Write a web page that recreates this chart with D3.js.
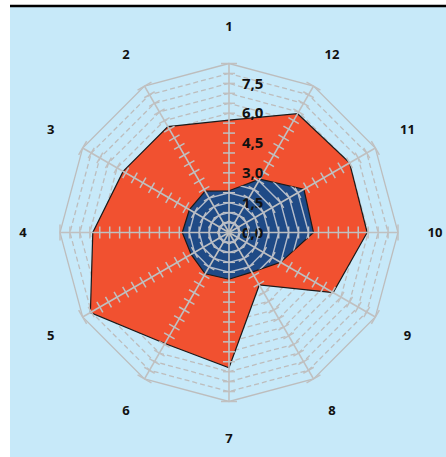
<!DOCTYPE html>
<html>
<head>
<meta charset="utf-8">
<script src="https://cdn.jsdelivr.net/npm/d3@7"></script>
<style>
  html, body { margin: 0; padding: 0; background: #ffffff; }
  svg { display: block; }
</style>
</head>
<body>
<svg id="chart" width="446" height="457"></svg>
<script>
// Spokes, counter-clockwise from the top
const categories = ["1", "2", "3", "4", "5", "6", "7", "8", "9", "10", "11", "12"];
// Outer (red) series, one value per spoke
const seriesOuter = [5.65, 6.15, 6.15, 6.85, 8.05, 6.45, 6.8, 3.05, 6.05, 6.95, 7.0, 6.9];
// Inner (blue) series
const seriesInner = [2.1, 2.4, 2.3, 2.35, 2.2, 2.4, 2.35, 2.3, 3.0, 4.25, 4.35, 3.1];
// Radial axis labels
const tickValues = [0, 1.5, 3.0, 4.5, 6.0, 7.5];
const tickLabels = ["0,0", "1,5", "3,0", "4,5", "6,0", "7,5"];
const radialMax = 8.5;
const gridStep = 0.5;

const W = 446, H = 457;
const cx = 229, cy = 232.5;
const svg = d3.select("#chart");

// panel background and top rule
svg.append("rect").attr("x", 10).attr("y", 6).attr("width", W - 10).attr("height", H - 6)
  .attr("fill", "#c7e9f9");
svg.append("line").attr("x1", 10).attr("x2", W).attr("y1", 6).attr("y2", 6)
  .attr("stroke", "#000").attr("stroke-width", 2.5);

const g = svg.append("g").attr("transform", `translate(${cx},${cy})`);

const r = d3.scaleLinear().domain([0, radialMax]).range([0, 169]);
const angle = d3.scalePoint().domain(categories).range([0, 2 * Math.PI * (11 / 12)]);

// spokes run counter-clockwise
const pt = (cat, v) => {
  const a = angle(cat);
  return [-Math.sin(a) * r(v), -Math.cos(a) * r(v)];
};

const gridLevels = d3.range(gridStep, radialMax + 1e-9, gridStep);
const ringPath = v => "M" + categories.map(c => pt(c, v).join(",")).join("L") + "Z";

// dashed grid rings, solid outer ring
g.append("g").selectAll("path").data(gridLevels).join("path")
  .attr("d", ringPath)
  .attr("fill", "none")
  .attr("stroke", "#bdbdbd")
  .attr("stroke-width", 1.3)
  .attr("stroke-dasharray", d => Math.abs(d - radialMax) < 1e-9 ? null : "5,3");

const seriesPath = vals => "M" + categories.map((c, i) => pt(c, vals[i]).join(",")).join("L") + "Z";

g.append("path").attr("d", seriesPath(seriesOuter))
  .attr("fill", "#f15130").attr("stroke", "#1a1a1a").attr("stroke-width", 1.2);
g.append("path").attr("d", seriesPath(seriesInner))
  .attr("fill", "#1f4a86").attr("stroke", "#1a1a1a").attr("stroke-width", 1.2);

// rings show through the inner series area
svg.append("clipPath").attr("id", "innerClip")
  .append("path").attr("d", seriesPath(seriesInner))
  .attr("transform", `translate(${cx},${cy})`);
const clipG = svg.append("g").attr("clip-path", "url(#innerClip)")
  .append("g").attr("transform", `translate(${cx},${cy})`);
clipG.selectAll("path").data(gridLevels).join("path")
  .attr("d", ringPath)
  .attr("fill", "none")
  .attr("stroke", "#b4bccb")
  .attr("stroke-width", 1.4);

// spokes with cross ticks
const spokes = g.append("g");
categories.forEach(c => {
  const [x2, y2] = pt(c, radialMax);
  spokes.append("line").attr("x1", 0).attr("y1", 0).attr("x2", x2).attr("y2", y2)
    .attr("stroke", "#c0c0c0").attr("stroke-width", 1.6);
  const a = angle(c);
  const px = Math.cos(a), py = -Math.sin(a);
  gridLevels.forEach(v => {
    const [x, y] = pt(c, v);
    const half = Math.abs(v - radialMax) < 1e-9 ? 8 : 6;
    spokes.append("line")
      .attr("x1", x - px * half).attr("y1", y - py * half)
      .attr("x2", x + px * half).attr("y2", y + py * half)
      .attr("stroke", "#c0c0c0").attr("stroke-width", 1.5);
  });
});

// radial value labels
g.append("g").selectAll("text").data(tickValues).join("text")
  .attr("x", 13)
  .attr("y", d => -r(d))
  .attr("dy", "0.35em")
  .attr("font-family", "'Open Sans', 'DejaVu Sans', sans-serif")
  .attr("font-weight", "bold")
  .attr("font-size", 15)
  .attr("fill", "#111")
  .text((d, i) => tickLabels[i]);

// spoke labels
g.append("g").selectAll("text").data(categories).join("text")
  .attr("x", c => -Math.sin(angle(c)) * 206)
  .attr("y", c => -Math.cos(angle(c)) * 206)
  .attr("dy", "0.35em")
  .attr("text-anchor", "middle")
  .attr("font-family", "'Open Sans', 'DejaVu Sans', sans-serif")
  .attr("font-weight", "bold")
  .attr("font-size", 13)
  .attr("fill", "#111")
  .text(c => c);
</script>
</body>
</html>
